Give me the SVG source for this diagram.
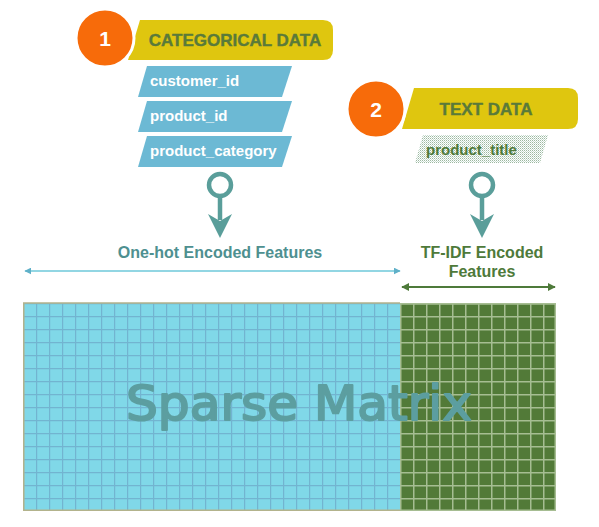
<svg xmlns="http://www.w3.org/2000/svg" width="599" height="527" viewBox="0 0 599 527">
<style>
.banner{fill:#dfc60f}
.badge{fill:#f76b0a;stroke:#ffffff;stroke-width:3}
.num{font-family:"Liberation Sans",Arial,sans-serif;font-weight:bold;font-size:21px;fill:#ffffff;text-anchor:middle}
.head{font-family:"Liberation Sans",Arial,sans-serif;font-weight:bold;font-size:17px;fill:#5a7a3a;stroke:#5a7a3a;stroke-width:0.4;text-anchor:middle}
.field{fill:#6cb9d4}
.ftext{font-family:"Liberation Sans",Arial,sans-serif;font-weight:bold;font-size:15px;fill:#ffffff}
.lbl{font-family:"Liberation Sans",Arial,sans-serif;font-weight:bold;font-size:16px;text-anchor:middle}
.pin{stroke:#5a9e9a;fill:none;stroke-width:4.5}
.pinhead{fill:#5a9e9a}
</style>
<defs>
<pattern id="cy" x="23" y="303" width="13" height="13" patternUnits="userSpaceOnUse">
<rect width="13" height="13" fill="#80d8e8"/>
<path d="M0.6 0V13M0 0.6H13" stroke="#72b4d0" stroke-width="1.2"/>
</pattern>
<pattern id="gr" x="23" y="303" width="13" height="13" patternUnits="userSpaceOnUse">
<rect width="13" height="13" fill="#527a38"/>
<path d="M0.75 0V13M0 0.75H13" stroke="#a6bd92" stroke-width="1.5"/>
</pattern>
<pattern id="dots" width="2" height="2" patternUnits="userSpaceOnUse">
<rect width="2" height="2" fill="#ffffff"/>
<rect width="1" height="1" fill="#9cb8a0"/>
<rect x="1" y="1" width="1" height="1" fill="#c8dcd0"/>
</pattern>
<marker id="ac" viewBox="0 0 10 10" refX="9" refY="5" markerWidth="7" markerHeight="7" orient="auto-start-reverse" markerUnits="userSpaceOnUse">
<path d="M0 0L10 5L0 10Z" fill="#5fb0c8"/>
</marker>
<marker id="ag" viewBox="0 0 10 10" refX="9" refY="5" markerWidth="8" markerHeight="8" orient="auto-start-reverse" markerUnits="userSpaceOnUse">
<path d="M0 0L10 5L0 10Z" fill="#4e7a3a"/>
</marker>
</defs>
<rect width="599" height="527" fill="#ffffff"/>

<g id="categorical">
<path class="banner" d="M128 60L140 20H323Q333 20 333 30V50Q333 60 323 60Z"/>
<circle class="badge" cx="105" cy="38" r="29"/>
<text class="num" x="105" y="46">1</text>
<text class="head" x="235" y="46">CATEGORICAL DATA</text>
</g>
<g id="field-customer_id">
<path class="field" d="M138 97L147 66H292L282 97Z"/>
<text class="ftext" x="150" y="86">customer_id</text>
</g>
<g id="field-product_id">
<path class="field" d="M138 132L147 101H292L282 132Z"/>
<text class="ftext" x="150" y="121">product_id</text>
</g>
<g id="field-product_category">
<path class="field" d="M138 167L147 136H292L282 167Z"/>
<text class="ftext" x="150" y="156">product_category</text>
</g>

<g id="textdata">
<path class="banner" d="M402 129L414 88H568Q578 88 578 98V119Q578 129 568 129Z"/>
<circle class="badge" cx="376" cy="109" r="29"/>
<text class="num" x="376" y="117">2</text>
<text class="head" x="486" y="115">TEXT DATA</text>
</g>
<g id="field-product_title">
<path d="M415 163L423 135H548L540 163Z" fill="url(#dots)"/>
<text class="ftext" x="426" y="155" style="fill:#4e7a3a">product_title</text>
</g>

<g id="label-onehot">
<text class="lbl" x="220" y="258" fill="#4e9090">One-hot Encoded Features</text>
</g>
<g id="label-tfidf">
<text class="lbl" x="482" y="258" fill="#4e7a3a">TF-IDF Encoded</text>
<text class="lbl" x="482" y="277" fill="#4e7a3a">Features</text>
</g>

<g id="matrix">
<rect x="23" y="303" width="377" height="208" fill="url(#cy)"/>
<rect x="400" y="303" width="156" height="208" fill="url(#gr)"/>
<path d="M400 303H23.75V510.25H400" fill="none" stroke="#b3b38c" stroke-width="1.5"/>
<path d="M400 303.75H555.25V510.25H400" fill="none" stroke="#a6bd92" stroke-width="1.5"/>
<text x="299" y="420" text-anchor="middle" textLength="346" lengthAdjust="spacingAndGlyphs" font-family="DejaVu Sans, sans-serif" font-size="48" fill="#5c9ea0" stroke="#5c9ea0" stroke-width="2" stroke-linejoin="round">Sparse Matrix</text>
</g>

<g id="connectors">
<circle class="pin" cx="220" cy="185" r="11"/>
<path class="pin" d="M220 196V220"/>
<path class="pinhead" d="M208 214L220 221L232 214L220 238Z"/>
<circle class="pin" cx="482" cy="185" r="11"/>
<path class="pin" d="M482 196V220"/>
<path class="pinhead" d="M470 214L482 221L494 214L482 238Z"/>
<line x1="25" y1="271" x2="400" y2="271" stroke="#6ec8da" stroke-width="1.5" marker-start="url(#ac)" marker-end="url(#ac)"/>
<line x1="402" y1="287" x2="555" y2="287" stroke="#4e7a3a" stroke-width="2" marker-start="url(#ag)" marker-end="url(#ag)"/>
</g>
</svg>
